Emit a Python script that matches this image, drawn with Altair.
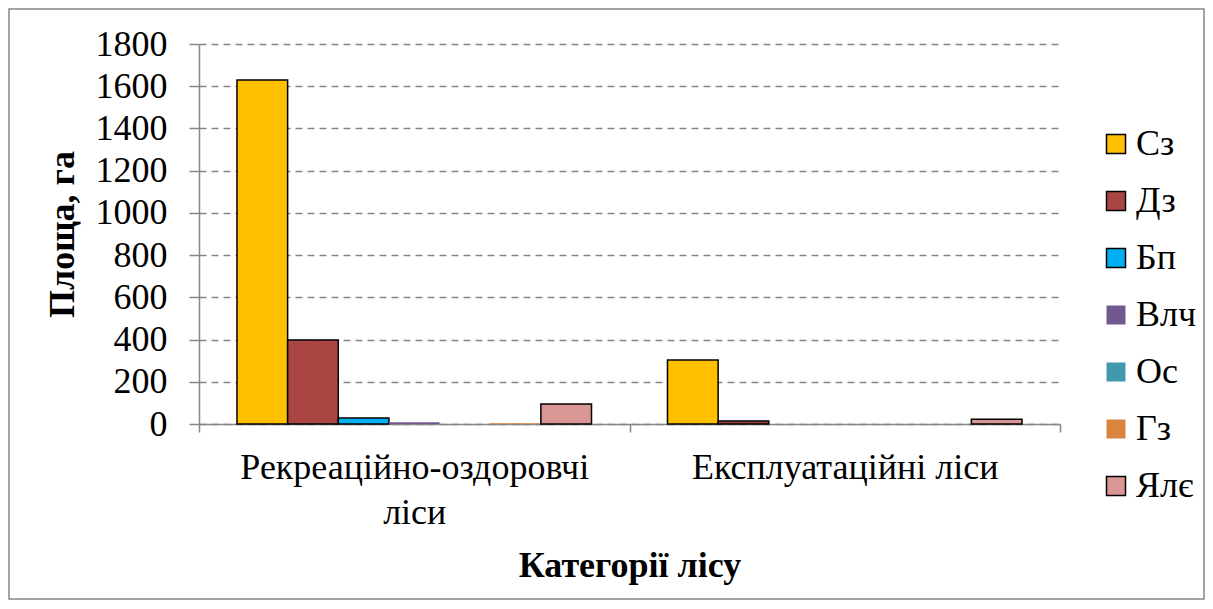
import altair as alt
import pandas as pd

categories = ["Рекреаційно-оздоровчі ліси", "Експлуатаційні ліси"]
series = ["Сз", "Дз", "Бп", "Влч", "Ос", "Гз", "Ялє"]
values_rec = [1630, 398, 28, 8, 0, 3, 95]
values_exp = [303, 14, 0, 0, 0, 0, 22]
colors = ["#FFC000", "#A94643", "#00B0F0", "#71588F", "#4198AF", "#DB843D", "#D99694"]
strokes = ["#000000", "#000000", "#000000", "transparent", "transparent", "transparent", "#000000"]
y_ticks = [0, 200, 400, 600, 800, 1000, 1200, 1400, 1600, 1800]

rows = []
for cat, vals in zip(categories, [values_rec, values_exp]):
    for s, v in zip(series, vals):
        rows.append({"cat": cat, "series": s, "value": v})
df = pd.DataFrame(rows)

FONT = "Liberation Serif"
FS = 36
W, H = 861, 380

leg = dict(title=None, orient="none", legendX=899, legendY=82,
           symbolType="square", symbolSize=361, symbolStrokeWidth=1.5,
           labelFont=FONT, labelFontSize=FS, labelColor="#000000",
           rowPadding=21, labelOffset=2, labelLimit=0)

bars = alt.Chart(df).mark_bar().encode(
    x=alt.X("cat:N", sort=categories,
            scale=alt.Scale(paddingInner=0, paddingOuter=0),
            axis=alt.Axis(title="Категорії лісу", labelAngle=0, tickBand="extent",
                          labelExpr="datum.label == 'Рекреаційно-оздоровчі ліси' ? ['Рекреаційно-оздоровчі', 'ліси'] : datum.label",
                          labelFont=FONT, labelFontSize=FS, labelColor="#000000",
                          labelLineHeight=45, labelPadding=18, labelBaseline="top",
                          labelLimit=0,
                          tickSize=8, tickColor="#868686", domainColor="#868686",
                          domainWidth=1.5, tickWidth=1.5,
                          titleFont=FONT, titleFontSize=FS, titleFontWeight="bold",
                          titleColor="#000000", titlePadding=18, grid=False)),
    xOffset=alt.XOffset("series:N", sort=series,
                        scale=alt.Scale(paddingInner=0, paddingOuter=0.75)),
    y=alt.Y("value:Q", scale=alt.Scale(domain=[0, 1800], nice=False),
            axis=alt.Axis(title="Площа, га", values=y_ticks, format="d",
                          labelFont=FONT, labelFontSize=FS, labelColor="#000000",
                          labelPadding=22, tickSize=10, tickColor="#868686",
                          tickWidth=1.5, domainColor="#868686", domainWidth=1.5,
                          grid=True, gridColor="#868686", gridDash=[7, 5], gridWidth=1.5,
                          titleFont=FONT, titleFontSize=FS, titleFontWeight="bold",
                          titleColor="#000000", titlePadding=14)),
    fill=alt.Fill("series:N", sort=series,
                  scale=alt.Scale(domain=series, range=colors),
                  legend=alt.Legend(**leg)),
    stroke=alt.Stroke("series:N", sort=series,
                      scale=alt.Scale(domain=series, range=strokes),
                      legend=alt.Legend(**leg)),
    strokeWidth=alt.condition("datum.value > 0", alt.value(1.5), alt.value(0)),
)

frame = alt.Chart(pd.DataFrame({"k": [0]})).mark_rect(
    fill="transparent", stroke="#868686", strokeWidth=1.5
).encode(
    x=alt.value(-190), x2=alt.value(W + 144),
    y=alt.value(-35), y2=alt.value(H + 175),
)

chart = alt.layer(frame, bars).properties(
    width=W, height=H,
    autosize=alt.AutoSizeParams(type="none"),
    padding={"left": 191, "top": 36, "right": 145, "bottom": 176},
).configure_view(stroke=None)

chart.save("out.html", embed_options={"renderer": "svg", "actions": False})
